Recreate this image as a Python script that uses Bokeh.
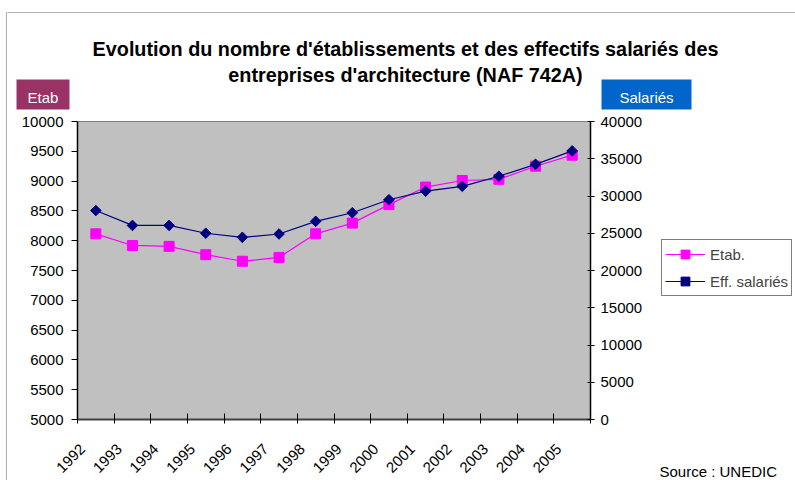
import numpy as np
from bokeh.plotting import figure
from bokeh.layouts import column, row
from bokeh.models import (Range1d, LinearAxis, FixedTicker, Label, BoxAnnotation,
                          Legend, LegendItem, CustomJSTickFormatter)
from bokeh.embed import file_html
from bokeh.resources import INLINE

# ---- data ----
years = ["1992", "1993", "1994", "1995", "1996", "1997", "1998",
         "1999", "2000", "2001", "2002", "2003", "2004", "2005"]
etab = [8115, 7920, 7905, 7765, 7655, 7720, 8115, 8295, 8605, 8900, 9010, 9030, 9250, 9435]
salaries = [28050, 26050, 26050, 25000, 24450, 24900, 26600, 27750, 29500, 30650, 31300, 32650, 34250, 36050]
left_ticks = list(range(5000, 10001, 500))
right_ticks = list(range(0, 40001, 5000))

title_line1 = "Evolution du nombre d'établissements et des effectifs salariés des"
title_line2 = "entreprises d'architecture (NAF 742A)"
source_text = "Source : UNEDIC"
legend_labels = ["Etab.", "Eff. salariés"]

FONT = "Liberation Sans"
PINK = "#FF00FF"
NAVY = "#000080"
LABEL_SHIFT = 0.36   # rotated year labels sit a little left of the category centre


def blank(width, height, xr=(0, 1), yr=(0, 1)):
    f = figure(width=width, height=height, output_backend="svg", toolbar_location=None,
               x_axis_type=None, y_axis_type=None, x_range=Range1d(*xr), y_range=Range1d(*yr),
               min_border=0, outline_line_color=None,
               background_fill_color="white", border_fill_color="white")
    f.grid.visible = False
    return f


def sbox(**kw):
    return BoxAnnotation(left_units="screen", right_units="screen",
                         top_units="screen", bottom_units="screen", **kw)


STRIP_W = 7
TOP_H = 110
MAIN_H = 480 - TOP_H
MAIN_W = 650 - STRIP_W
SIDE_W = 795 - 650

# ---------------- left strip: chart border ----------------
strip = blank(STRIP_W, 480)
strip.add_layout(sbox(left=6, right=100, top=480 - 12, bottom=-100,
                      fill_color=None, line_color="black", line_width=1.2))

# ---------------- top strip: chart border, title, axis headers ----------------
top = blank(795 - STRIP_W, TOP_H)
top.add_layout(sbox(left=-10, right=2000, top=TOP_H - 12, bottom=-100,
                    fill_color=None, line_color="black", line_width=1.2))
for txt, base in [(title_line1, 48.5), (title_line2, 74)]:
    top.add_layout(Label(x=405 - STRIP_W, y=TOP_H - base, x_units="screen", y_units="screen",
                         text=txt, text_align="center", text_baseline="alphabetic",
                         text_font=FONT, text_font_style="bold", text_font_size="19.8px",
                         text_color="black"))
for txt, l, r, col in [("Etab", 16, 69, "#993366"), ("Salariés", 601, 691, "#0066CC")]:
    top.add_layout(sbox(left=l - STRIP_W, right=r - STRIP_W, top=TOP_H - 79, bottom=TOP_H - 109,
                        fill_color=col, fill_alpha=1, line_color=None))
    top.add_layout(Label(x=(l + r) / 2 - STRIP_W, y=TOP_H - 97, x_units="screen", y_units="screen",
                         text=txt, text_align="center", text_baseline="alphabetic",
                         text_font=FONT, text_font_size="15px", text_color="white"))

# ---------------- main chart ----------------
x = list(range(len(years)))
p = figure(width=MAIN_W, height=MAIN_H, output_backend="svg", toolbar_location=None,
           x_range=Range1d(-0.5, len(years) - 0.5), y_range=Range1d(5000, 10000),
           min_border_left=77 - STRIP_W, min_border_right=650 - 590, min_border_top=121 - TOP_H,
           min_border_bottom=480 - 419,
           background_fill_color="#C0C0C0", border_fill_color="white")
p.outline_line_color = "#808080"
p.grid.visible = False
p.extra_y_ranges = {"sal": Range1d(0, 40000)}

xa = p.xaxis[0]
xa.ticker = FixedTicker(ticks=[i - LABEL_SHIFT for i in x],
                        minor_ticks=[i - 0.5 for i in range(len(years) + 1)])
xa.formatter = CustomJSTickFormatter(args=dict(years=years, shift=LABEL_SHIFT),
                                     code="return years[Math.round(tick + shift)]")
xa.major_label_orientation = np.pi / 4
xa.major_tick_line_color = None
xa.major_tick_in = 0
xa.major_tick_out = 0
xa.minor_tick_in = 6
xa.minor_tick_out = 4
xa.minor_tick_line_color = "black"
xa.axis_line_color = "#404040"
xa.axis_line_width = 2
xa.major_label_standoff = 23
xa.major_label_text_font = FONT
xa.major_label_text_font_size = "15px"
xa.major_label_text_color = "black"

ya = p.yaxis[0]
ya.ticker = FixedTicker(ticks=left_ticks)
ya.minor_tick_line_color = None
ya.major_tick_in = 0
ya.major_tick_out = 6
ya.axis_line_color = "black"
ya.axis_line_width = 1.5
ya.major_label_standoff = 8
ya.major_label_text_font = FONT
ya.major_label_text_font_size = "15px"
ya.major_label_text_color = "black"

ra = LinearAxis(y_range_name="sal", ticker=FixedTicker(ticks=right_ticks))
ra.minor_tick_line_color = None
ra.major_tick_in = 3
ra.major_tick_out = 4
ra.axis_line_color = "black"
ra.axis_line_width = 1.5
ra.major_label_standoff = 6
ra.major_label_text_font = FONT
ra.major_label_text_font_size = "15px"
ra.major_label_text_color = "black"
p.add_layout(ra, "right")

p.line(x, etab, line_color=PINK, line_width=1.2)
p.scatter(x, etab, marker="square", size=10, fill_color=PINK, line_color=PINK)
p.line(x, salaries, line_color=NAVY, line_width=1.2, y_range_name="sal")
p.scatter(x, salaries, marker="square", angle=np.pi / 4, size=7.5,
          fill_color=NAVY, line_color=NAVY, y_range_name="sal")

# ---------------- right strip: legend and source ----------------
# its frame is aligned with the main plot frame (page y 121..419); ranges = page pixels
side = blank(SIDE_W, MAIN_H, xr=(650, 795), yr=(419, 121))
# legend swatches: same styles and same series, lying outside this strip's ranges
k1 = side.line(x, etab, line_color=PINK, line_width=1.2)
k1m = side.scatter(x, etab, marker="square", size=10, fill_color=PINK, line_color=PINK)
k2 = side.line(x, salaries, line_color=NAVY, line_width=1.2)
k2m = side.scatter(x, salaries, marker="square", angle=np.pi / 4, size=7.5,
                   fill_color=NAVY, line_color=NAVY)
legend = Legend(items=[LegendItem(label=legend_labels[0], renderers=[k1, k1m]),
                       LegendItem(label=legend_labels[1], renderers=[k2, k2m])],
                location=(661 - 650, 419 - 296), orientation="vertical",
                glyph_width=40, glyph_height=22, label_height=22, spacing=5,
                padding=3, margin=0, label_standoff=5,
                label_text_font=FONT, label_text_font_size="15px",
                border_line_color="black", border_line_width=1,
                background_fill_color="white", background_fill_alpha=1)
side.add_layout(legend, "center")
side.add_layout(Label(x=659, y=471, text=source_text, text_align="left",
                      text_baseline="alphabetic", text_font=FONT, text_font_size="15px",
                      text_color="black"), "below")

layout = row(strip, column(top, row(p, side)))
open("out.html", "w").write(file_html(layout, INLINE))
